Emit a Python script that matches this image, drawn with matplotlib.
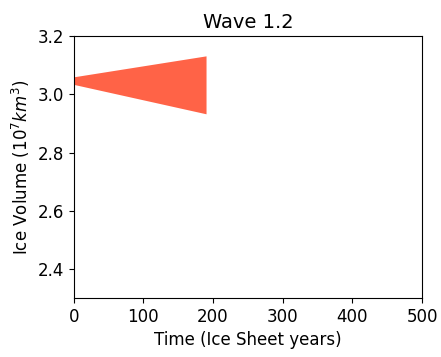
import numpy as np
import matplotlib.pyplot as plt

time = [0, 190]
upper = [3.06, 3.132]
lower = [3.034, 2.933]

fig, ax = plt.subplots(figsize=(4.41, 3.57), dpi=100)
ax.fill_between(time, lower, upper, color='tomato', linewidth=0)
ax.set_xlim(0, 500)
ax.set_ylim(2.3, 3.2)
ax.set_yticks([2.4, 2.6, 2.8, 3.0, 3.2])
ax.tick_params(labelsize=12)
ax.set_xlabel('Time (Ice Sheet years)', fontsize=12)
ax.set_ylabel('Ice Volume ($10^7 km^3$)', fontsize=12)
ax.set_title('Wave 1.2', fontsize=14)
fig.subplots_adjust(left=0.167, right=0.957, top=0.899, bottom=0.165)

fig.savefig('out.png', dpi=100)
